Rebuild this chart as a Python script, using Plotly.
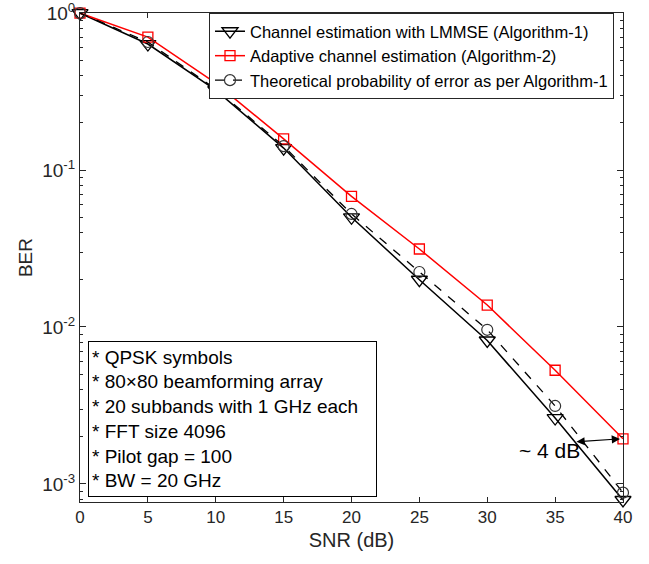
import plotly.graph_objects as go
import numpy as np

snr = [0, 5, 10, 15, 20, 25, 30, 35, 40]
ber_lmmse = [1.0, 0.635, 0.323, 0.138, 0.050, 0.020, 0.0082, 0.00263, 0.00079]
ber_adaptive = [1.0, 0.703, 0.358, 0.158, 0.068, 0.0314, 0.0138, 0.0053, 0.00194]
ber_theory = [1.0, 0.654, 0.328, 0.142, 0.0525, 0.0224, 0.0096, 0.00314, 0.00088]

names = ["Channel estimation with LMMSE (Algorithm-1)",
         "Adaptive channel estimation (Algorithm-2)",
         "Theoretical probability of error as per Algorithm-1"]

box_lines = ["* QPSK symbols", "* 80\u00d780 beamforming array",
             "* 20 subbands with 1 GHz each", "* FFT size 4096",
             "* Pilot gap = 100", "* BW = 20 GHz"]

y_tickvals = [1e-3, 1e-2, 1e-1, 1e0]
y_ticktext = ["10<sup>-3</sup>", "10<sup>-2</sup>", "10<sup>-1</sup>", "10<sup>0</sup>"]
minor_vals = [m * 10.0 ** e for e in [-4, -3, -2, -1] for m in range(2, 10)]

FONT = "Liberation Sans, Arial, Helvetica, sans-serif"
AX = "#262626"

fig = go.Figure()
fig.add_trace(go.Scatter(x=snr, y=ber_lmmse, name=names[0], mode="lines+markers",
                         cliponaxis=False,
                         line=dict(color="black", width=1.5),
                         marker=dict(symbol="triangle-down-open", size=14, color="black",
                                     line=dict(width=1.3))))
fig.add_trace(go.Scatter(x=snr, y=ber_adaptive, name=names[1], mode="lines+markers",
                         cliponaxis=False,
                         line=dict(color="red", width=1.5),
                         marker=dict(symbol="square-open", size=10, color="red",
                                     line=dict(width=1.3))))
fig.add_trace(go.Scatter(x=snr, y=ber_theory, name=names[2], mode="lines+markers",
                         cliponaxis=False,
                         line=dict(color="black", width=1.3, dash="dash"),
                         marker=dict(symbol="circle-open", size=11, color="#333333",
                                     line=dict(width=1.2))))

# arrow "~4 dB"
fig.add_annotation(x=39.78, y=-2.713, ax=36.46, ay=-2.732, xref="x", yref="y",
                   axref="x", ayref="y", text="", showarrow=True,
                   arrowhead=2, startarrowhead=2, arrowside="end+start",
                   arrowsize=1.5, startarrowsize=1.5, arrowwidth=1.1, arrowcolor="black")
fig.add_annotation(x=34.6, y=-2.79, xref="x", yref="y", text="~ 4 dB", showarrow=False,
                   font=dict(size=21, color="black", family=FONT))

# parameter box
fig.add_annotation(x=(88 - 80) / 543, y=(502 - 497) / 489, xref="paper", yref="paper",
                   xanchor="left", yanchor="bottom", showarrow=False,
                   text="<br>".join(box_lines), align="left",
                   font=dict(size=19, color="black", family=FONT),
                   bordercolor="black", borderwidth=1, borderpad=3, bgcolor="white",
                   width=281, height=148, valign="middle")

fig.update_layout(
    width=649, height=564,
    margin=dict(l=80, r=26, t=13, b=62),
    paper_bgcolor="white", plot_bgcolor="white",
    font=dict(family=FONT, color=AX, size=16),
    legend=dict(x=(209 - 80) / 543, y=1.0, xanchor="left", yanchor="top",
                bgcolor="white", bordercolor=AX, borderwidth=1,
                font=dict(size=16.5, color="black", family=FONT),
                tracegroupgap=0, itemwidth=30),
    showlegend=True,
)
fig.update_xaxes(range=[0, 40], tickvals=snr, ticks="inside", ticklen=5,
                 showline=True, linecolor=AX, linewidth=1, mirror="ticks",
                 showgrid=False, zeroline=False, tickcolor=AX, automargin=False,
                 ticklabeloverflow="allow",
                 tickfont=dict(size=17, color=AX),
                 title=dict(text="SNR (dB)", font=dict(size=20, color=AX), standoff=6))
fig.update_yaxes(type="log", range=[-3.115, 0.0005], tickvals=y_tickvals, ticktext=y_ticktext,
                 ticks="inside", ticklen=6, showline=True, linecolor=AX, linewidth=1,
                 mirror="ticks", showgrid=False, zeroline=False, tickcolor=AX,
                 automargin=False, ticklabeloverflow="allow",
                 tickfont=dict(size=19, color=AX),
                 minor=dict(tickvals=minor_vals, ticks="inside", ticklen=3, tickcolor=AX,
                            showgrid=False),
                 title=dict(text="BER", font=dict(size=19, color=AX), standoff=4))

fig.write_html("out.html")
